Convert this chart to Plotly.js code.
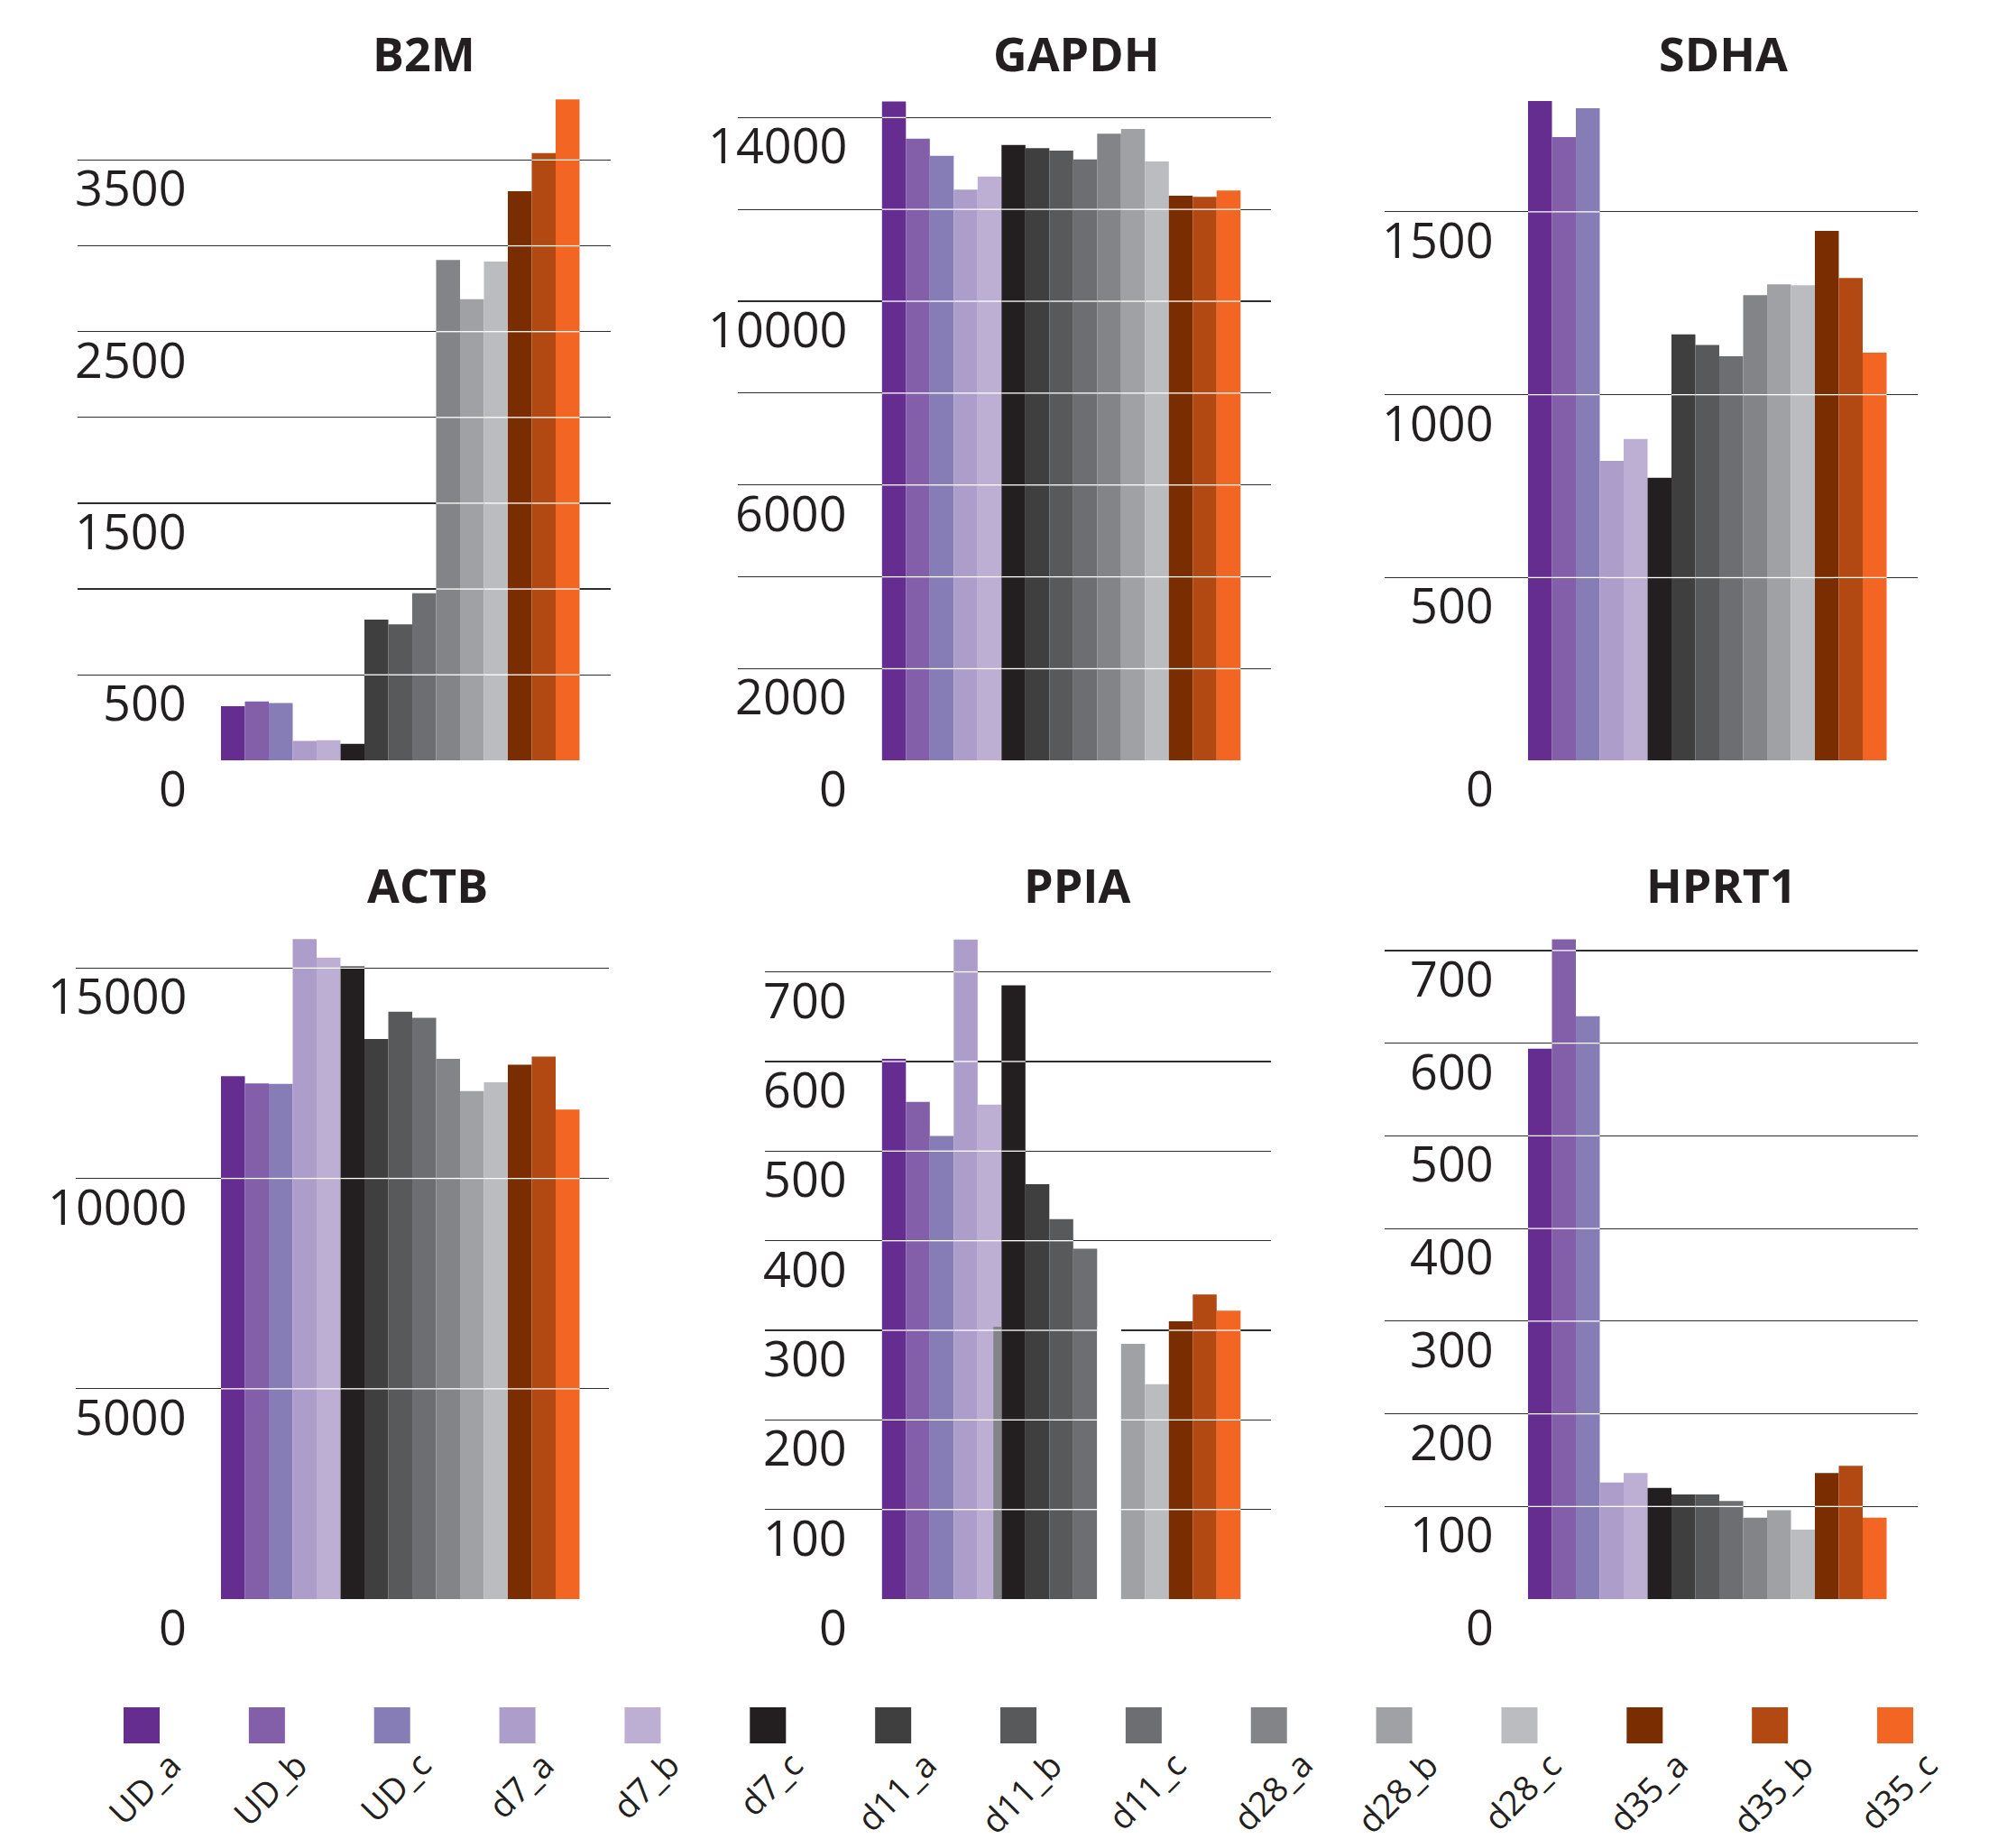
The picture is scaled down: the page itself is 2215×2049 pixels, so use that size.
<!DOCTYPE html>
<html><head><meta charset="utf-8">
<script src="https://cdn.plot.ly/plotly-3.0.1.min.js"></script>
<style>html,body{margin:0;padding:0;background:#fff}</style>
</head><body><div id="chart" style="width:2215px;height:2049px"></div>
<script>
// ---------------- data ----------------
const samples = ['UD_a','UD_b','UD_c','d7_a','d7_b','d7_c','d11_a','d11_b','d11_c','d28_a','d28_b','d28_c','d35_a','d35_b','d35_c'];
const sampleColors = ['#662d91','#825fa8','#877db6','#ad9dcb','#bdaed4','#231f20','#3f3f40','#58595b','#6d6e71','#838487','#a0a1a4','#bbbcbf','#7a2e00','#b24913','#f26522'];
const genes = ['B2M','GAPDH','SDHA','ACTB','PPIA','HPRT1'];

const b2m   = [317,344,335,115,118,97,821,794,975,2918,2689,2909,3319,3540,3853];
const gapdh = [14349,13538,13166,12433,12715,13402,13335,13278,13087,13650,13752,13042,12298,12275,12411];
const sdha  = [1803,1704,1783,819,879,773,1165,1136,1105,1272,1302,1299,1448,1319,1115];
const actb  = [12429,12260,12247,15688,15247,15039,13312,13961,13818,12844,12078,12286,12701,12896,11636];
const ppia  = [603,555,517,736,552,685,463,424,391,304,285,240,310,340,322];
const hprt1 = [594,712,629,126,136,120,113,113,106,88,96,75,136,144,88];

const gridB2M   = [0,500,1000,1500,2000,2500,3000,3500];
const gridGAPDH = [0,2000,4000,6000,8000,10000,12000,14000];
const gridSDHA  = [0,500,1000,1500];
const gridACTB  = [0,5000,10000,15000];
const gridPPIA  = [0,100,200,300,400,500,600,700];
const gridHPRT1 = [0,100,200,300,400,500,600,700];

const labelsB2M   = ['0','500','1500','2500','3500'];
const labelsGAPDH = ['0','2000','6000','10000','14000'];
const labelsSDHA  = ['0','500','1000','1500'];
const labelsACTB  = ['0','5000','10000','15000'];
const labelsPPIA  = ['0','100','200','300','400','500','600','700'];
const labelsHPRT1 = ['0','100','200','300','400','500','600','700'];

// ---------------- layout geometry (pixels) ----------------
const W = 2215, H = 2049;
const FONT = '"Open Sans", "Noto Sans", sans-serif';
const INK = '#231f20';
const px = v => v / W;
const py = v => 1 - v / H;

const panels = [
  {gene:genes[0], vals:b2m,   grid:gridB2M,   labels:labelsB2M,   gx:[86,677],      barStart:245,   labelRight:209,  base:843.3,  top:100,  ppu:0.19024,  tx:469.6, ty:58.5},
  {gene:genes[1], vals:gapdh, grid:gridGAPDH, labels:labelsGAPDH, gx:[818,1409],    barStart:977.8, labelRight:941,  base:843.3,  top:100,  ppu:0.050926, tx:1193,  ty:58.5},
  {gene:genes[2], vals:sdha,  grid:gridSDHA,  labels:labelsSDHA,  gx:[1535.4,2125.8],barStart:1694, labelRight:1658, base:843.3,  top:100,  ppu:0.40566,  tx:1910,  ty:58.5},
  {gene:genes[3], vals:actb,  grid:gridACTB,  labels:labelsACTB,  gx:[84,674.8],    barStart:245,   labelRight:209,  base:1773.1, top:1030, ppu:0.046652, tx:474,   ty:980},
  {gene:genes[4], vals:ppia,  grid:gridPPIA,  labels:labelsPPIA,  gx:[848,1409],    barStart:977.8, labelRight:941,  base:1773.1, top:1030, ppu:0.9936,   tx:1194,  ty:980},
  {gene:genes[5], vals:hprt1, grid:gridHPRT1, labels:labelsHPRT1, gx:[1535.4,2126.2],barStart:1694, labelRight:1658, base:1773.1, top:1030, ppu:1.0274,   tx:1908,  ty:980}
];
const SLOT = 26.5;

const traces = [];
const layout = {
  width: W, height: H,
  margin: {l:0, r:0, t:0, b:0},
  paper_bgcolor: '#ffffff', plot_bgcolor: 'rgba(0,0,0,0)',
  showlegend: false,
  annotations: [],
  font: {family: FONT, color: INK}
};

const idx = samples.map((_, i) => i);

panels.forEach((p, k) => {
  const n = k + 1;
  const xa = 'x' + n, ya = 'y' + n;
  const xKey = 'xaxis' + (n === 1 ? '' : n);
  const yKey = 'yaxis' + (n === 1 ? '' : n);

  layout[xKey] = {
    domain: [px(p.gx[0]), px(p.gx[1])],
    range: [(p.gx[0] - p.barStart) / SLOT - 0.5, (p.gx[1] - p.barStart) / SLOT - 0.5],
    showgrid: false, zeroline: false, showticklabels: false, ticks: '', showline: false,
    anchor: ya, fixedrange: true
  };
  layout[yKey] = {
    domain: [py(p.base), py(p.top)],
    range: [0, (p.base - p.top) / p.ppu],
    tickmode: 'array', tickvals: p.grid, showticklabels: false, ticks: '',
    showgrid: true, gridcolor: '#2f2d2e', gridwidth: 1.2,
    zeroline: false, showline: false, anchor: xa, fixedrange: true
  };

  const cols = sampleColors.slice();
  if (p.gene === 'PPIA') cols[9] = '#ffffff';

  traces.push({
    type: 'bar', x: idx, y: p.vals, width: 1,
    marker: {color: cols, line: {width: 0}},
    xaxis: xa, yaxis: ya, hoverinfo: 'skip', cliponaxis: false
  });

  if (p.gene === 'PPIA') {
    // misplaced d28_a sliver visible beside d7_c in the reference
    traces.push({
      type: 'bar', x: [5 - 0.5 - 0.17], y: [p.vals[9]], width: 0.34,
      marker: {color: sampleColors[9], line: {width: 0}},
      xaxis: xa, yaxis: ya, hoverinfo: 'skip'
    });
  }

  // white gridline segments drawn across the bars
  const sx = [], sy = [];
  p.vals.forEach((v, i) => {
    p.grid.forEach(g => {
      if (g > 0 && g < v) { sx.push(i - 0.5, i + 0.5, null); sy.push(g, g, null); }
    });
  });
  traces.push({
    type: 'scatter', mode: 'lines', x: sx, y: sy,
    line: {color: '#ffffff', width: 1.3}, connectgaps: false,
    xaxis: xa, yaxis: ya, hoverinfo: 'skip'
  });

  // tick labels (drawn below their gridlines, inside the plot span)
  p.labels.forEach(t => {
    layout.annotations.push({
      xref: 'paper', x: px(p.labelRight), xanchor: 'right',
      yref: ya, y: Number(t), yanchor: 'middle', yshift: -30,
      text: t, showarrow: false,
      font: {family: FONT, size: 54, color: INK}
    });
  });

  // panel title
  layout.annotations.push({
    xref: 'paper', x: px(p.tx), xanchor: 'center',
    yref: 'paper', y: py(p.ty), yanchor: 'middle',
    text: p.gene, showarrow: false,
    font: {family: FONT, size: 52, color: INK, weight: 700}
  });
});

// ---------------- legend (custom, bottom row) ----------------
const LG0 = 157, LGSTEP = 138.86;
layout.xaxis7 = {
  domain: [0, 1], range: [-LG0 / LGSTEP, (W - LG0) / LGSTEP],
  showgrid: false, zeroline: false, showticklabels: false, ticks: '', anchor: 'y7', fixedrange: true
};
layout.yaxis7 = {
  domain: [py(1953), py(1873)], range: [-1, 1],
  showgrid: false, zeroline: false, showticklabels: false, ticks: '', anchor: 'x7', fixedrange: true
};
traces.push({
  type: 'scatter', mode: 'markers', x: idx, y: idx.map(() => 0),
  marker: {symbol: 'square', size: 40, color: sampleColors, line: {width: 0}},
  xaxis: 'x7', yaxis: 'y7', hoverinfo: 'skip'
});
samples.forEach((s, i) => {
  layout.annotations.push({
    xref: 'x7', x: i + 0.02, xanchor: 'center',
    yref: 'paper', y: py(1928), yanchor: 'top',
    text: s, textangle: -45, showarrow: false,
    font: {family: FONT, size: 38, color: INK}
  });
});

Plotly.newPlot('chart', traces, layout, {staticPlot: true, displayModeBar: false});
</script>
</body></html>
